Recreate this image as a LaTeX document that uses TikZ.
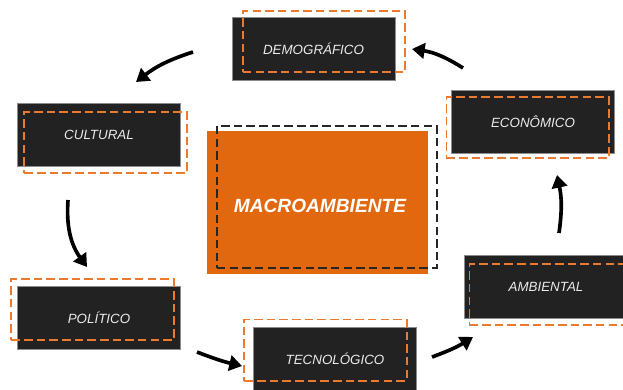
\documentclass[tikz,border=0pt]{standalone}
\usepackage{fontspec}
\setmainfont{Liberation Sans}
\usetikzlibrary{arrows.meta}
\definecolor{boxdark}{HTML}{222222}
\definecolor{macroorange}{HTML}{E2680F}
\definecolor{dashorange}{HTML}{EA7A2E}

\begin{document}
\begin{tikzpicture}[x=0.025cm,y=0.025cm,
  factor/.style={fill=boxdark,draw=black!45,line width=0.5pt,minimum width=4.075cm,minimum height=1.575cm,inner sep=0pt,text=white!92!black,font=\fontsize{9.5}{11}\selectfont\itshape},
  dashframe/.style={draw=dashorange,dash pattern=on 6pt off 3pt,line width=1.4pt,minimum width=4.05cm,minimum height=1.525cm,inner sep=0pt},
  flow/.style={line width=2.6pt,-{Triangle[length=9pt,width=11pt]}}]
  \useasboundingbox (0,0) rectangle (623,-389);

  % factor boxes
  \node[factor] (demo) at (313.5,-48.5) {DEMOGRÁFICO};
  \node[factor] (cultural) at (99,-134.5) {CULTURAL};
  \node[factor] (economico) at (533,-122) {ECONÔMICO};
  \node[factor] (politico) at (99,-318) {POLÍTICO};
  \node[factor] (tecno) at (335,-358.5) {TECNOLÓGICO};
  \node[factor] (ambiental) at (546,-286.5) {AMBIENTAL};

  % centre
  \node[fill=macroorange,minimum width=5.525cm,minimum height=3.575cm,inner sep=0pt] (macro) at (317.5,-202.5) {};
  \node[text=white,font=\fontsize{13.6}{15}\selectfont\bfseries\itshape] (macroT) at (320,-206) {MACROAMBIENTE};

  % dashed frames
  \node[dashframe] (demoF) at (324,-41.5) {};
  \node[dashframe] (culturalF) at (105.5,-142.5) {};
  \node[dashframe] (economicoF) at (527.5,-127.5) {};
  \node[dashframe] (politicoF) at (92.5,-309.5) {};
  \node[dashframe] (tecnoF) at (325.5,-350) {};
  \node[dashframe] (ambientalF) at (550.5,-294.5) {};
  \node[dashframe,draw=black!85,minimum width=5.5cm,minimum height=3.55cm] (macroF) at (327,-197) {};

  % arrows
  \coordinate (a1) at (463,-68);  \coordinate (b1) at (412,-49);
  \coordinate (a2) at (193,-52);  \coordinate (b2) at (136,-82);
  \coordinate (a3) at (68,-200);  \coordinate (b3) at (87,-267);
  \coordinate (a4) at (197,-352); \coordinate (b4) at (242,-366);
  \coordinate (a5) at (432,-357); \coordinate (b5) at (473,-337);
  \coordinate (a6) at (559,-233); \coordinate (b6) at (557,-175);

  \draw[flow] (a1) to[bend right=12] (b1);
  \draw[flow] (a2) to[bend right=10] (b2);
  \draw[flow] (a3) to[bend right=20] (b3);
  \draw[flow] (a4) to[bend right=4] (b4);
  \draw[flow] (a5) to[bend right=6] (b5);
  \draw[flow] (a6) to[bend right=10] (b6);
\end{tikzpicture}
\end{document}
